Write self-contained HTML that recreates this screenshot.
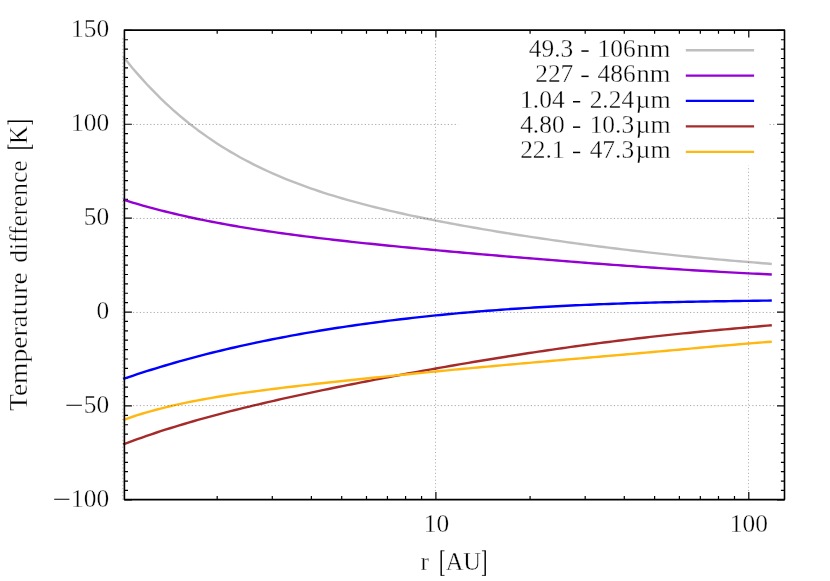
<!DOCTYPE html><html><head><meta charset="utf-8"><style>html,body{margin:0;padding:0;background:#fff}svg{display:block}text{font-family:"Liberation Serif",serif;font-size:25.4px;fill:#000;stroke:#fff;stroke-width:0.35px}</style></head><body>
<svg width="830" height="581" viewBox="0 0 830 581">
<rect width="830" height="581" fill="#fff"/>
<path d="M124.4,499.85h7.5M784.5,499.85h-7.5M124.4,490.46h3.6M784.5,490.46h-3.6M124.4,481.07h3.6M784.5,481.07h-3.6M124.4,471.68h3.6M784.5,471.68h-3.6M124.4,462.29h3.6M784.5,462.29h-3.6M124.4,452.90h3.6M784.5,452.90h-3.6M124.4,443.51h3.6M784.5,443.51h-3.6M124.4,434.12h3.6M784.5,434.12h-3.6M124.4,424.73h3.6M784.5,424.73h-3.6M124.4,415.34h3.6M784.5,415.34h-3.6M124.4,405.95h7.5M784.5,405.95h-7.5M124.4,396.56h3.6M784.5,396.56h-3.6M124.4,387.17h3.6M784.5,387.17h-3.6M124.4,377.78h3.6M784.5,377.78h-3.6M124.4,368.39h3.6M784.5,368.39h-3.6M124.4,359.00h3.6M784.5,359.00h-3.6M124.4,349.61h3.6M784.5,349.61h-3.6M124.4,340.22h3.6M784.5,340.22h-3.6M124.4,330.83h3.6M784.5,330.83h-3.6M124.4,321.44h3.6M784.5,321.44h-3.6M124.4,312.05h7.5M784.5,312.05h-7.5M124.4,302.66h3.6M784.5,302.66h-3.6M124.4,293.27h3.6M784.5,293.27h-3.6M124.4,283.88h3.6M784.5,283.88h-3.6M124.4,274.49h3.6M784.5,274.49h-3.6M124.4,265.10h3.6M784.5,265.10h-3.6M124.4,255.71h3.6M784.5,255.71h-3.6M124.4,246.32h3.6M784.5,246.32h-3.6M124.4,236.93h3.6M784.5,236.93h-3.6M124.4,227.54h3.6M784.5,227.54h-3.6M124.4,218.15h7.5M784.5,218.15h-7.5M124.4,208.76h3.6M784.5,208.76h-3.6M124.4,199.37h3.6M784.5,199.37h-3.6M124.4,189.98h3.6M784.5,189.98h-3.6M124.4,180.59h3.6M784.5,180.59h-3.6M124.4,171.20h3.6M784.5,171.20h-3.6M124.4,161.81h3.6M784.5,161.81h-3.6M124.4,152.42h3.6M784.5,152.42h-3.6M124.4,143.03h3.6M784.5,143.03h-3.6M124.4,133.64h3.6M784.5,133.64h-3.6M124.4,124.25h7.5M784.5,124.25h-7.5M124.4,114.86h3.6M784.5,114.86h-3.6M124.4,105.47h3.6M784.5,105.47h-3.6M124.4,96.08h3.6M784.5,96.08h-3.6M124.4,86.69h3.6M784.5,86.69h-3.6M124.4,77.30h3.6M784.5,77.30h-3.6M124.4,67.91h3.6M784.5,67.91h-3.6M124.4,58.52h3.6M784.5,58.52h-3.6M124.4,49.13h3.6M784.5,49.13h-3.6M124.4,39.74h3.6M784.5,39.74h-3.6M124.4,30.35h7.5M784.5,30.35h-7.5M217.19,499.6v-3.6M217.19,30.1v3.6M272.29,499.6v-3.6M272.29,30.1v3.6M311.38,499.6v-3.6M311.38,30.1v3.6M341.71,499.6v-3.6M341.71,30.1v3.6M366.48,499.6v-3.6M366.48,30.1v3.6M387.43,499.6v-3.6M387.43,30.1v3.6M405.58,499.6v-3.6M405.58,30.1v3.6M421.58,499.6v-3.6M421.58,30.1v3.6M435.90,499.6v-7.5M435.90,30.1v7.5M530.09,499.6v-3.6M530.09,30.1v3.6M585.19,499.6v-3.6M585.19,30.1v3.6M624.28,499.6v-3.6M624.28,30.1v3.6M654.61,499.6v-3.6M654.61,30.1v3.6M679.38,499.6v-3.6M679.38,30.1v3.6M700.33,499.6v-3.6M700.33,30.1v3.6M718.48,499.6v-3.6M718.48,30.1v3.6M734.48,499.6v-3.6M734.48,30.1v3.6M748.80,499.6v-7.5M748.80,30.1v7.5" stroke="#000" stroke-width="1.2" fill="none"/>
<path d="M123.3,56.70 L128.0,62.53 L132.6,68.17 L137.3,73.62 L142.0,78.90 L146.6,84.00 L151.3,88.94 L156.0,93.71 L160.6,98.32 L165.3,102.79 L170.0,107.10 L174.6,111.28 L179.3,115.31 L184.0,119.22 L188.6,122.99 L193.3,126.64 L197.9,130.17 L202.6,133.59 L207.3,136.89 L211.9,140.08 L216.6,143.17 L221.3,146.16 L225.9,149.06 L230.6,151.85 L235.3,154.56 L239.9,157.19 L244.6,159.72 L249.3,162.18 L253.9,164.56 L258.6,166.87 L263.3,169.10 L267.9,171.27 L272.6,173.37 L277.3,175.40 L281.9,177.38 L286.6,179.30 L291.3,181.16 L295.9,182.96 L300.6,184.72 L305.3,186.42 L309.9,188.08 L314.6,189.69 L319.2,191.26 L323.9,192.78 L328.6,194.27 L333.2,195.71 L337.9,197.12 L342.6,198.50 L347.2,199.84 L351.9,201.15 L356.6,202.43 L361.2,203.68 L365.9,204.90 L370.6,206.09 L375.2,207.26 L379.9,208.40 L384.6,209.52 L389.2,210.62 L393.9,211.70 L398.6,212.75 L403.2,213.79 L407.9,214.81 L412.6,215.81 L417.2,216.79 L421.9,217.76 L426.6,218.71 L431.2,219.64 L435.9,220.56 L440.6,221.47 L445.2,222.36 L449.9,223.24 L454.5,224.11 L459.2,224.97 L463.9,225.82 L468.5,226.65 L473.2,227.47 L477.9,228.29 L482.5,229.09 L487.2,229.89 L491.9,230.67 L496.5,231.45 L501.2,232.21 L505.9,232.97 L510.5,233.72 L515.2,234.46 L519.9,235.19 L524.5,235.92 L529.2,236.63 L533.9,237.34 L538.5,238.04 L543.2,238.73 L547.9,239.42 L552.5,240.10 L557.2,240.77 L561.9,241.43 L566.5,242.08 L571.2,242.73 L575.9,243.37 L580.5,244.01 L585.2,244.63 L589.8,245.25 L594.5,245.86 L599.2,246.46 L603.8,247.06 L608.5,247.65 L613.2,248.23 L617.8,248.80 L622.5,249.37 L627.2,249.93 L631.8,250.48 L636.5,251.02 L641.2,251.56 L645.8,252.09 L650.5,252.61 L655.2,253.13 L659.8,253.64 L664.5,254.14 L669.2,254.63 L673.8,255.12 L678.5,255.60 L683.2,256.07 L687.8,256.53 L692.5,256.99 L697.2,257.44 L701.8,257.89 L706.5,258.33 L711.1,258.76 L715.8,259.19 L720.5,259.61 L725.1,260.03 L729.8,260.44 L734.5,260.84 L739.1,261.24 L743.8,261.64 L748.5,262.03 L753.1,262.41 L757.8,262.80 L762.5,263.18 L767.1,263.55 L771.8,263.93" fill="none" stroke="#bebebe" stroke-width="2.4" stroke-linejoin="round"/>
<path d="M123.3,199.67 L128.0,201.14 L132.6,202.56 L137.3,203.94 L142.0,205.29 L146.6,206.60 L151.3,207.88 L156.0,209.12 L160.6,210.34 L165.3,211.52 L170.0,212.66 L174.6,213.78 L179.3,214.88 L184.0,215.94 L188.6,216.97 L193.3,217.99 L197.9,218.97 L202.6,219.93 L207.3,220.87 L211.9,221.78 L216.6,222.67 L221.3,223.55 L225.9,224.40 L230.6,225.23 L235.3,226.04 L239.9,226.83 L244.6,227.61 L249.3,228.37 L253.9,229.11 L258.6,229.83 L263.3,230.54 L267.9,231.24 L272.6,231.92 L277.3,232.59 L281.9,233.24 L286.6,233.89 L291.3,234.52 L295.9,235.14 L300.6,235.74 L305.3,236.34 L309.9,236.93 L314.6,237.51 L319.2,238.07 L323.9,238.63 L328.6,239.18 L333.2,239.72 L337.9,240.26 L342.6,240.79 L347.2,241.31 L351.9,241.82 L356.6,242.32 L361.2,242.82 L365.9,243.32 L370.6,243.81 L375.2,244.29 L379.9,244.77 L384.6,245.24 L389.2,245.71 L393.9,246.17 L398.6,246.63 L403.2,247.09 L407.9,247.54 L412.6,247.98 L417.2,248.43 L421.9,248.87 L426.6,249.31 L431.2,249.74 L435.9,250.17 L440.6,250.60 L445.2,251.02 L449.9,251.45 L454.5,251.87 L459.2,252.28 L463.9,252.70 L468.5,253.11 L473.2,253.52 L477.9,253.93 L482.5,254.33 L487.2,254.74 L491.9,255.14 L496.5,255.54 L501.2,255.94 L505.9,256.33 L510.5,256.72 L515.2,257.12 L519.9,257.51 L524.5,257.89 L529.2,258.28 L533.9,258.66 L538.5,259.04 L543.2,259.42 L547.9,259.80 L552.5,260.17 L557.2,260.54 L561.9,260.92 L566.5,261.28 L571.2,261.65 L575.9,262.01 L580.5,262.37 L585.2,262.73 L589.8,263.09 L594.5,263.44 L599.2,263.79 L603.8,264.14 L608.5,264.49 L613.2,264.83 L617.8,265.17 L622.5,265.51 L627.2,265.84 L631.8,266.17 L636.5,266.50 L641.2,266.83 L645.8,267.15 L650.5,267.47 L655.2,267.78 L659.8,268.10 L664.5,268.41 L669.2,268.71 L673.8,269.01 L678.5,269.31 L683.2,269.61 L687.8,269.90 L692.5,270.19 L697.2,270.47 L701.8,270.75 L706.5,271.03 L711.1,271.30 L715.8,271.57 L720.5,271.83 L725.1,272.09 L729.8,272.35 L734.5,272.60 L739.1,272.85 L743.8,273.10 L748.5,273.34 L753.1,273.58 L757.8,273.81 L762.5,274.04 L767.1,274.26 L771.8,274.49" fill="none" stroke="#9400d3" stroke-width="2.4" stroke-linejoin="round"/>
<path d="M123.3,378.96 L128.0,377.35 L132.6,375.77 L137.3,374.23 L142.0,372.70 L146.6,371.21 L151.3,369.74 L156.0,368.29 L160.6,366.87 L165.3,365.48 L170.0,364.10 L174.6,362.76 L179.3,361.43 L184.0,360.13 L188.6,358.85 L193.3,357.59 L197.9,356.36 L202.6,355.14 L207.3,353.95 L211.9,352.78 L216.6,351.63 L221.3,350.49 L225.9,349.38 L230.6,348.29 L235.3,347.21 L239.9,346.16 L244.6,345.12 L249.3,344.10 L253.9,343.10 L258.6,342.12 L263.3,341.15 L267.9,340.20 L272.6,339.26 L277.3,338.35 L281.9,337.45 L286.6,336.56 L291.3,335.69 L295.9,334.84 L300.6,334.00 L305.3,333.18 L309.9,332.37 L314.6,331.57 L319.2,330.79 L323.9,330.03 L328.6,329.27 L333.2,328.53 L337.9,327.81 L342.6,327.10 L347.2,326.40 L351.9,325.71 L356.6,325.04 L361.2,324.38 L365.9,323.73 L370.6,323.10 L375.2,322.47 L379.9,321.86 L384.6,321.26 L389.2,320.68 L393.9,320.10 L398.6,319.54 L403.2,318.98 L407.9,318.44 L412.6,317.91 L417.2,317.39 L421.9,316.88 L426.6,316.38 L431.2,315.89 L435.9,315.41 L440.6,314.94 L445.2,314.48 L449.9,314.04 L454.5,313.60 L459.2,313.17 L463.9,312.75 L468.5,312.34 L473.2,311.94 L477.9,311.55 L482.5,311.17 L487.2,310.79 L491.9,310.43 L496.5,310.08 L501.2,309.73 L505.9,309.39 L510.5,309.06 L515.2,308.74 L519.9,308.43 L524.5,308.13 L529.2,307.83 L533.9,307.55 L538.5,307.27 L543.2,306.99 L547.9,306.73 L552.5,306.47 L557.2,306.22 L561.9,305.98 L566.5,305.75 L571.2,305.52 L575.9,305.30 L580.5,305.09 L585.2,304.88 L589.8,304.68 L594.5,304.49 L599.2,304.30 L603.8,304.12 L608.5,303.95 L613.2,303.78 L617.8,303.62 L622.5,303.46 L627.2,303.31 L631.8,303.17 L636.5,303.03 L641.2,302.89 L645.8,302.76 L650.5,302.64 L655.2,302.52 L659.8,302.40 L664.5,302.29 L669.2,302.18 L673.8,302.08 L678.5,301.98 L683.2,301.89 L687.8,301.80 L692.5,301.71 L697.2,301.63 L701.8,301.54 L706.5,301.47 L711.1,301.39 L715.8,301.32 L720.5,301.25 L725.1,301.18 L729.8,301.11 L734.5,301.04 L739.1,300.98 L743.8,300.91 L748.5,300.85 L753.1,300.79 L757.8,300.73 L762.5,300.67 L767.1,300.60 L771.8,300.54" fill="none" stroke="#0000ff" stroke-width="2.4" stroke-linejoin="round"/>
<path d="M123.3,444.35 L128.0,442.59 L132.6,440.87 L137.3,439.18 L142.0,437.53 L146.6,435.91 L151.3,434.32 L156.0,432.76 L160.6,431.23 L165.3,429.73 L170.0,428.26 L174.6,426.81 L179.3,425.39 L184.0,423.99 L188.6,422.62 L193.3,421.27 L197.9,419.94 L202.6,418.63 L207.3,417.35 L211.9,416.08 L216.6,414.83 L221.3,413.60 L225.9,412.38 L230.6,411.19 L235.3,410.01 L239.9,408.84 L244.6,407.69 L249.3,406.55 L253.9,405.43 L258.6,404.32 L263.3,403.22 L267.9,402.14 L272.6,401.06 L277.3,400.00 L281.9,398.95 L286.6,397.91 L291.3,396.88 L295.9,395.86 L300.6,394.85 L305.3,393.84 L309.9,392.85 L314.6,391.86 L319.2,390.88 L323.9,389.91 L328.6,388.95 L333.2,388.00 L337.9,387.05 L342.6,386.10 L347.2,385.17 L351.9,384.24 L356.6,383.32 L361.2,382.40 L365.9,381.49 L370.6,380.59 L375.2,379.69 L379.9,378.80 L384.6,377.91 L389.2,377.03 L393.9,376.15 L398.6,375.28 L403.2,374.41 L407.9,373.55 L412.6,372.70 L417.2,371.84 L421.9,371.00 L426.6,370.16 L431.2,369.32 L435.9,368.50 L440.6,367.67 L445.2,366.85 L449.9,366.04 L454.5,365.23 L459.2,364.43 L463.9,363.63 L468.5,362.84 L473.2,362.05 L477.9,361.27 L482.5,360.49 L487.2,359.72 L491.9,358.96 L496.5,358.20 L501.2,357.45 L505.9,356.70 L510.5,355.96 L515.2,355.23 L519.9,354.50 L524.5,353.78 L529.2,353.06 L533.9,352.36 L538.5,351.65 L543.2,350.96 L547.9,350.27 L552.5,349.59 L557.2,348.91 L561.9,348.24 L566.5,347.58 L571.2,346.93 L575.9,346.28 L580.5,345.64 L585.2,345.01 L589.8,344.39 L594.5,343.77 L599.2,343.16 L603.8,342.55 L608.5,341.96 L613.2,341.37 L617.8,340.79 L622.5,340.22 L627.2,339.65 L631.8,339.09 L636.5,338.54 L641.2,338.00 L645.8,337.46 L650.5,336.93 L655.2,336.41 L659.8,335.90 L664.5,335.39 L669.2,334.89 L673.8,334.39 L678.5,333.91 L683.2,333.42 L687.8,332.95 L692.5,332.48 L697.2,332.02 L701.8,331.56 L706.5,331.11 L711.1,330.67 L715.8,330.23 L720.5,329.80 L725.1,329.37 L729.8,328.94 L734.5,328.52 L739.1,328.10 L743.8,327.69 L748.5,327.28 L753.1,326.87 L757.8,326.47 L762.5,326.06 L767.1,325.66 L771.8,325.26" fill="none" stroke="#a52a2a" stroke-width="2.4" stroke-linejoin="round"/>
<path d="M123.3,420.00 L128.0,418.34 L132.6,416.75 L137.3,415.22 L142.0,413.77 L146.6,412.38 L151.3,411.04 L156.0,409.77 L160.6,408.54 L165.3,407.37 L170.0,406.24 L174.6,405.16 L179.3,404.12 L184.0,403.12 L188.6,402.16 L193.3,401.23 L197.9,400.33 L202.6,399.47 L207.3,398.63 L211.9,397.82 L216.6,397.03 L221.3,396.27 L225.9,395.53 L230.6,394.81 L235.3,394.11 L239.9,393.42 L244.6,392.76 L249.3,392.10 L253.9,391.47 L258.6,390.84 L263.3,390.23 L267.9,389.62 L272.6,389.03 L277.3,388.45 L281.9,387.88 L286.6,387.31 L291.3,386.76 L295.9,386.21 L300.6,385.66 L305.3,385.12 L309.9,384.59 L314.6,384.06 L319.2,383.54 L323.9,383.02 L328.6,382.51 L333.2,382.00 L337.9,381.49 L342.6,380.99 L347.2,380.49 L351.9,379.99 L356.6,379.50 L361.2,379.01 L365.9,378.52 L370.6,378.03 L375.2,377.55 L379.9,377.07 L384.6,376.59 L389.2,376.11 L393.9,375.64 L398.6,375.17 L403.2,374.70 L407.9,374.23 L412.6,373.76 L417.2,373.30 L421.9,372.84 L426.6,372.38 L431.2,371.93 L435.9,371.47 L440.6,371.02 L445.2,370.57 L449.9,370.12 L454.5,369.68 L459.2,369.24 L463.9,368.79 L468.5,368.36 L473.2,367.92 L477.9,367.49 L482.5,367.05 L487.2,366.62 L491.9,366.20 L496.5,365.77 L501.2,365.35 L505.9,364.92 L510.5,364.50 L515.2,364.08 L519.9,363.67 L524.5,363.25 L529.2,362.84 L533.9,362.42 L538.5,362.01 L543.2,361.60 L547.9,361.19 L552.5,360.78 L557.2,360.38 L561.9,359.97 L566.5,359.56 L571.2,359.16 L575.9,358.75 L580.5,358.34 L585.2,357.94 L589.8,357.53 L594.5,357.13 L599.2,356.72 L603.8,356.31 L608.5,355.90 L613.2,355.50 L617.8,355.09 L622.5,354.68 L627.2,354.27 L631.8,353.85 L636.5,353.44 L641.2,353.03 L645.8,352.61 L650.5,352.20 L655.2,351.78 L659.8,351.36 L664.5,350.94 L669.2,350.52 L673.8,350.10 L678.5,349.68 L683.2,349.26 L687.8,348.84 L692.5,348.42 L697.2,347.99 L701.8,347.57 L706.5,347.15 L711.1,346.73 L715.8,346.32 L720.5,345.90 L725.1,345.49 L729.8,345.08 L734.5,344.68 L739.1,344.28 L743.8,343.89 L748.5,343.50 L753.1,343.12 L757.8,342.75 L762.5,342.39 L767.1,342.03 L771.8,341.69" fill="none" stroke="#ffb812" stroke-width="2.4" stroke-linejoin="round"/>
<g stroke="#000" stroke-opacity="0.42" stroke-width="0.8" stroke-dasharray="1.25 2.21" fill="none">
<path d="M132.9,124.45H776.5"/>
<path d="M132.9,218.45H776.5"/>
<path d="M132.9,312.45H776.5"/>
<path d="M132.9,405.60H776.5"/>
</g>
<g stroke="#000" stroke-opacity="0.42" stroke-width="0.8" stroke-dasharray="1.0 2.46" fill="none">
<path d="M122.80,499.6V38.1"/>
<path d="M435.50,491.1V38.1"/>
<path d="M748.50,491.1V38.1"/>
</g>
<rect x="458.2" y="38.1" width="310.5" height="127.6" fill="#fff"/>
<path d="M685.8,50.3H754.1" stroke="#bebebe" stroke-width="2.4" fill="none"/>
<path d="M685.8,75.6H754.1" stroke="#9400d3" stroke-width="2.4" fill="none"/>
<path d="M685.8,100.9H754.1" stroke="#0000ff" stroke-width="2.4" fill="none"/>
<path d="M685.8,126.4H754.1" stroke="#a52a2a" stroke-width="2.4" fill="none"/>
<path d="M685.8,151.9H754.1" stroke="#ffb812" stroke-width="2.4" fill="none"/>
<rect x="124.4" y="30.1" width="660.1" height="469.5" fill="none" stroke="#000" stroke-width="1.6" stroke-linejoin="round"/>
<g opacity="0.995">
<text x="109.2" y="37.1" text-anchor="end">150</text>
<text x="109.2" y="131.0" text-anchor="end">100</text>
<text x="109.2" y="224.9" text-anchor="end">50</text>
<text x="109.2" y="318.8" text-anchor="end">0</text>
<text x="109.2" y="412.7" text-anchor="end">50</text>
<text x="109.2" y="506.6" text-anchor="end">100</text>
<path d="M66.4,405.30H81.9M54.2,499.30H69.4" stroke="#000" stroke-width="1.1" fill="none"/>
<text x="436.4" y="531.6" text-anchor="middle">10</text>
<text x="748.9" y="531.6" text-anchor="middle">100</text>
<text x="420.4" y="569.5">r</text>
<text x="445.7" y="569.5" textLength="35.3" lengthAdjust="spacingAndGlyphs">AU</text>
<path d="M441.2,550.4V575.8M485.2,550.4V575.8" stroke="#000" stroke-width="1.45" fill="none"/>
<path d="M440.9,550.8H444.5M440.9,575.4H444.5M485.5,550.8H481.9M485.5,575.4H481.9" stroke="#000" stroke-width="0.8" fill="none"/>
<text transform="translate(26.6,411.0) rotate(-90)" textLength="138.6" lengthAdjust="spacingAndGlyphs">Temperature</text>
<text transform="translate(26.6,262.7) rotate(-90)" textLength="102.2" lengthAdjust="spacingAndGlyphs">difference</text>
<text transform="translate(26.6,143.9) rotate(-90)" textLength="17.9" lengthAdjust="spacingAndGlyphs">K</text>
<path d="M7.6,147.9H32.8M7.6,121.2H32.8" stroke="#000" stroke-width="1.45" fill="none"/>
<path d="M8.0,148.2V144.6M32.4,148.2V144.6M8.0,120.9V124.5M32.4,120.9V124.5" stroke="#000" stroke-width="0.8" fill="none"/>
<text x="573.3" y="56.9" text-anchor="end">49.3</text>
<path d="M581.4,51.05h7.2" stroke="#000" stroke-width="1.5" fill="none"/>
<text x="635.6" y="56.9" text-anchor="end">106</text>
<text x="636.6" y="56.9" textLength="33.9" lengthAdjust="spacingAndGlyphs">nm</text>
<text x="573.3" y="82.2" text-anchor="end">227</text>
<path d="M581.4,76.35h7.2" stroke="#000" stroke-width="1.5" fill="none"/>
<text x="635.6" y="82.2" text-anchor="end">486</text>
<text x="636.6" y="82.2" textLength="33.9" lengthAdjust="spacingAndGlyphs">nm</text>
<text x="564.6" y="107.6" text-anchor="end">1.04</text>
<path d="M573.0,101.75h7.2" stroke="#000" stroke-width="1.5" fill="none"/>
<text x="634.1" y="107.6" text-anchor="end">2.24</text>
<text x="635.5" y="107.6" textLength="35.2" lengthAdjust="spacingAndGlyphs">µm</text>
<text x="564.6" y="133.0" text-anchor="end">4.80</text>
<path d="M573.0,127.15h7.2" stroke="#000" stroke-width="1.5" fill="none"/>
<text x="634.1" y="133.0" text-anchor="end">10.3</text>
<text x="635.5" y="133.0" textLength="35.2" lengthAdjust="spacingAndGlyphs">µm</text>
<text x="564.6" y="158.3" text-anchor="end">22.1</text>
<path d="M573.0,152.45h7.2" stroke="#000" stroke-width="1.5" fill="none"/>
<text x="634.1" y="158.3" text-anchor="end">47.3</text>
<text x="635.5" y="158.3" textLength="35.2" lengthAdjust="spacingAndGlyphs">µm</text>
</g>
</svg></body></html>
